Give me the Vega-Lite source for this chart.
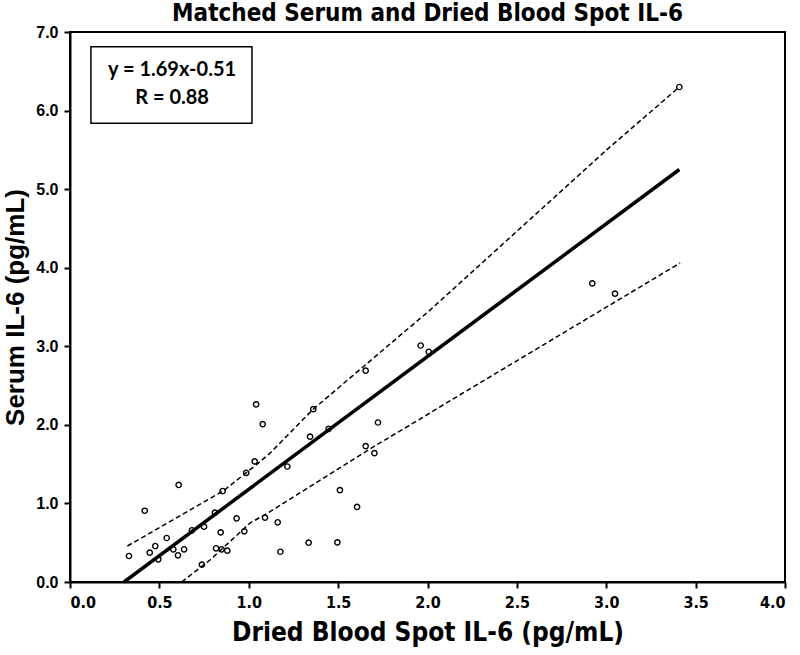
{
  "$schema": "https://vega.github.io/schema/vega-lite/v6.json",
  "width": 715,
  "height": 550,
  "autosize": {"type": "none"},
  "padding": {"left": 70, "top": 32, "right": 15, "bottom": 73},
  "background": "white",
  "title": {
    "text": "Matched Serum and Dried Blood Spot IL-6",
    "font": "DejaVu Sans Condensed, Liberation Sans, sans-serif",
    "fontSize": 24,
    "fontWeight": "bold",
    "color": "black",
    "anchor": "middle",
    "offset": -2
  },
  "config": {
    "view": {"stroke": "black", "strokeWidth": 2},
    "axis": {
      "grid": false,
      "domainColor": "black",
      "domainWidth": 2,
      "tickColor": "black",
      "tickWidth": 2,
      "tickSize": 6,
      "labelColor": "black",
      "labelFontWeight": "bold",
      "titleColor": "black",
      "titleFontWeight": "bold"
    }
  },
  "datasets": {
    "points": [
      {"dbs": 0.330, "serum": 0.331},
      {"dbs": 0.418, "serum": 0.907},
      {"dbs": 0.446, "serum": 0.373},
      {"dbs": 0.477, "serum": 0.458},
      {"dbs": 0.494, "serum": 0.289},
      {"dbs": 0.541, "serum": 0.560},
      {"dbs": 0.578, "serum": 0.416},
      {"dbs": 0.608, "serum": 1.235},
      {"dbs": 0.604, "serum": 0.340},
      {"dbs": 0.638, "serum": 0.416},
      {"dbs": 0.682, "serum": 0.658},
      {"dbs": 0.738, "serum": 0.220},
      {"dbs": 0.750, "serum": 0.704},
      {"dbs": 0.811, "serum": 0.882},
      {"dbs": 0.817, "serum": 0.429},
      {"dbs": 0.843, "serum": 0.632},
      {"dbs": 0.848, "serum": 0.416},
      {"dbs": 0.854, "serum": 1.158},
      {"dbs": 0.880, "serum": 0.399},
      {"dbs": 0.932, "serum": 0.810},
      {"dbs": 0.975, "serum": 0.645},
      {"dbs": 0.986, "serum": 1.390},
      {"dbs": 1.033, "serum": 1.535},
      {"dbs": 1.041, "serum": 2.260},
      {"dbs": 1.078, "serum": 2.010},
      {"dbs": 1.091, "serum": 0.820},
      {"dbs": 1.162, "serum": 0.760},
      {"dbs": 1.177, "serum": 0.385},
      {"dbs": 1.216, "serum": 1.470},
      {"dbs": 1.335, "serum": 0.500},
      {"dbs": 1.343, "serum": 1.850},
      {"dbs": 1.361, "serum": 2.200},
      {"dbs": 1.447, "serum": 1.950},
      {"dbs": 1.496, "serum": 0.505},
      {"dbs": 1.510, "serum": 1.170},
      {"dbs": 1.606, "serum": 0.955},
      {"dbs": 1.654, "serum": 1.730},
      {"dbs": 1.654, "serum": 2.690},
      {"dbs": 1.703, "serum": 1.640},
      {"dbs": 1.723, "serum": 2.030},
      {"dbs": 1.962, "serum": 3.010},
      {"dbs": 2.007, "serum": 2.930},
      {"dbs": 2.922, "serum": 3.800},
      {"dbs": 3.049, "serum": 3.670},
      {"dbs": 3.409, "serum": 6.300}
    ],
    "lines": [
      {"series": "fit", "dbs": 0.302, "serum": 0.0},
      {"series": "fit", "dbs": 3.409, "serum": 5.25},
      {"series": "upper", "dbs": 0.321, "serum": 0.458},
      {"series": "upper", "dbs": 0.858, "serum": 1.16},
      {"series": "upper", "dbs": 1.063, "serum": 1.53},
      {"series": "upper", "dbs": 1.119, "serum": 1.64},
      {"series": "upper", "dbs": 1.361, "serum": 2.20},
      {"series": "upper", "dbs": 1.884, "serum": 3.21},
      {"series": "upper", "dbs": 2.014, "serum": 3.46},
      {"series": "upper", "dbs": 3.002, "serum": 5.50},
      {"series": "upper", "dbs": 3.409, "serum": 6.30},
      {"series": "lower", "dbs": 0.625, "serum": 0.0},
      {"series": "lower", "dbs": 0.783, "serum": 0.28},
      {"series": "lower", "dbs": 1.007, "serum": 0.75},
      {"series": "lower", "dbs": 1.119, "serum": 0.895},
      {"series": "lower", "dbs": 1.697, "serum": 1.72},
      {"series": "lower", "dbs": 2.014, "serum": 2.15},
      {"series": "lower", "dbs": 2.07, "serum": 2.23},
      {"series": "lower", "dbs": 3.413, "serum": 4.06}
    ],
    "box": [
      {"x1": 0.117, "x2": 1.018, "y1": 5.838, "y2": 6.813}
    ],
    "labels": [
      {"x": 0.571, "y": 6.52, "text": "y = 1.69x-0.51"},
      {"x": 0.571, "y": 6.16, "text": "R = 0.88"}
    ]
  },
  "layer": [
    {
      "data": {"name": "lines"},
      "transform": [{"filter": "datum.series === 'upper' || datum.series === 'lower'"}],
      "mark": {"type": "line", "color": "black", "strokeWidth": 1.5, "strokeDash": [5, 3], "clip": true},
      "encoding": {
        "x": {
          "field": "dbs", "type": "quantitative",
          "scale": {"domain": [0, 4], "nice": false, "zero": false},
          "axis": {
            "values": [0, 0.5, 1, 1.5, 2, 2.5, 3, 3.5, 4],
            "format": ".1f",
            "title": "Dried Blood Spot IL-6 (pg/mL)",
            "labelFont": "DejaVu Sans Condensed, Liberation Sans, sans-serif",
            "labelFontSize": 16,
            "labelPadding": 6,
            "titleFont": "DejaVu Sans Condensed, Liberation Sans, sans-serif",
            "titleFontSize": 26,
            "titlePadding": 9
          }
        },
        "y": {
          "field": "serum", "type": "quantitative",
          "scale": {"domain": [0, 7], "nice": false},
          "axis": {
            "values": [0, 1, 2, 3, 4, 5, 6, 7],
            "format": ".1f",
            "title": "Serum IL-6 (pg/mL)",
            "labelFont": "Liberation Sans",
            "labelFontSize": 16,
            "labelPadding": 6,
            "titleFont": "Liberation Sans",
            "titleFontSize": 26,
            "titlePadding": 7
          }
        },
        "detail": {"field": "series"},
        "order": {"field": "dbs", "type": "quantitative"}
      }
    },
    {
      "data": {"name": "lines"},
      "transform": [{"filter": "datum.series === 'fit'"}],
      "mark": {"type": "line", "color": "black", "strokeWidth": 3.5},
      "encoding": {
        "x": {"field": "dbs", "type": "quantitative"},
        "y": {"field": "serum", "type": "quantitative"}
      }
    },
    {
      "data": {"name": "points"},
      "mark": {"type": "point", "shape": "circle", "filled": false, "color": "black", "size": 28, "strokeWidth": 1.4, "opacity": 1},
      "encoding": {
        "x": {"field": "dbs", "type": "quantitative"},
        "y": {"field": "serum", "type": "quantitative"}
      }
    },
    {
      "data": {"name": "box"},
      "mark": {"type": "rect", "fill": "white", "stroke": "black", "strokeWidth": 1.5},
      "encoding": {
        "x": {"field": "x1", "type": "quantitative"},
        "x2": {"field": "x2"},
        "y": {"field": "y1", "type": "quantitative"},
        "y2": {"field": "y2"}
      }
    },
    {
      "data": {"name": "labels"},
      "mark": {"type": "text", "font": "Lato, Liberation Sans", "fontSize": 20, "fontWeight": "bold", "color": "black", "align": "center", "baseline": "middle"},
      "encoding": {
        "x": {"field": "x", "type": "quantitative"},
        "y": {"field": "y", "type": "quantitative"},
        "text": {"field": "text"}
      }
    }
  ]
}
